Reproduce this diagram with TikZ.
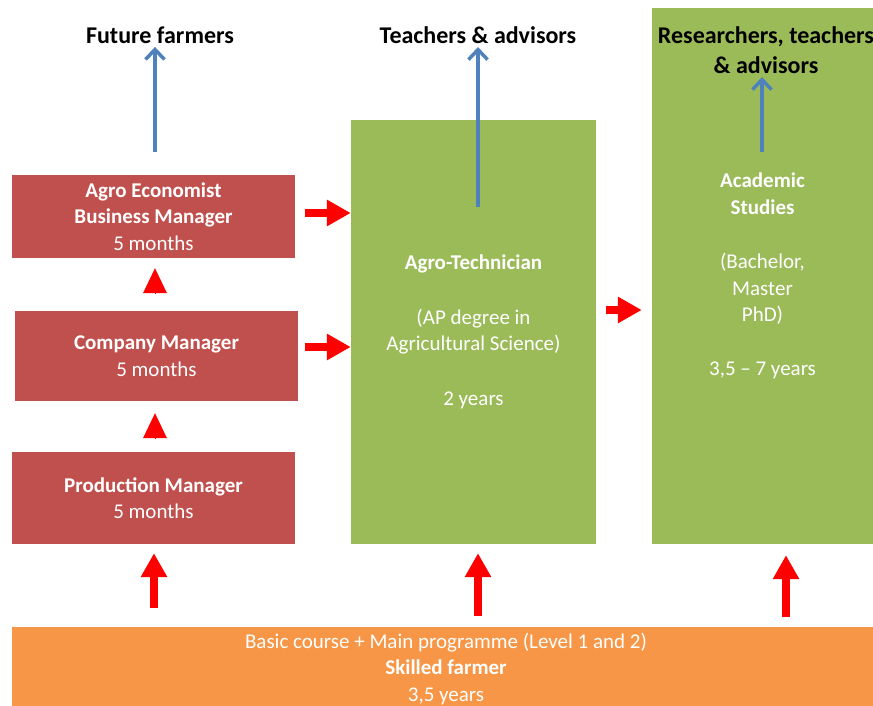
\documentclass[tikz,border=0pt]{standalone}
\usepackage{fontspec}
\setmainfont{Carlito}
\usetikzlibrary{arrows.meta}
\definecolor{boxred}{HTML}{C0504D}
\definecolor{boxgreen}{HTML}{9BBB59}
\definecolor{boxorange}{HTML}{F79646}
\definecolor{arrowblue}{HTML}{4F81BD}
\begin{document}
\begin{tikzpicture}[x=1pt,y=-1pt,
    box/.style={fill=#1,text=white,align=center,inner sep=0pt,font=\fontsize{21}{26.5}\selectfont},
    title/.style={align=center,font=\fontsize{24}{30}\selectfont\bfseries},
    up/.style={arrowblue,line width=3.5pt,-{Straight Barb[length=10pt,width=19pt]}},
    block/.style={red,line width=8pt,-{Triangle[length=24pt,width=25pt]}},
    tri/.style={red,line width=0pt,-{Triangle[length=25pt,width=24pt]}}]
  \useasboundingbox (0,0) rectangle (873,706);
  \draw
    (153.5,216.5) node[box=boxred,minimum width=283pt,minimum height=83pt] (econ)
      {\textbf{Agro Economist}\\\textbf{Business Manager}\\5 months}
    (156.5,356) node[box=boxred,minimum width=283pt,minimum height=90pt] (comp)
      {\textbf{Company Manager}\\5 months}
    (153.5,498) node[box=boxred,minimum width=283pt,minimum height=92pt] (prod)
      {\textbf{Production Manager}\\5 months}
    (473.5,332) node[box=boxgreen,minimum width=245pt,minimum height=424pt] (tech)
      {\textbf{Agro-Technician}\\[28pt](AP degree in\\Agricultural Science)\\[28pt]2 years}
    (762.5,276) node[box=boxgreen,minimum width=221pt,minimum height=536pt] (acad)
      {\textbf{Academic}\\\textbf{Studies}\\[28pt](Bachelor,\\Master\\PhD)\\[27pt]3,5 -- 7 years}
    (446,669) node[box=boxorange,minimum width=868pt,minimum height=84pt] (base)
      {Basic course + Main programme (Level 1 and 2)\\\textbf{Skilled farmer}\\3,5 years}
    (160,35) node[title] (ff) {Future farmers}
    (478,35) node[title] (ta) {Teachers \& advisors}
    (766,50) node[title] (rta) {Researchers, teachers\\\& advisors};
  \coordinate (econtop) at (155,152);
  \coordinate (techtop) at (478,207);
  \coordinate (acadtop) at (762,152);
  \coordinate (econout) at (305,213);
  \coordinate (compout) at (305,347);
  \coordinate (techout) at (606,310);
  \coordinate (compup) at (155,293);
  \coordinate (produp) at (155,436);
  \coordinate (base1) at (154,608);
  \coordinate (base2) at (478,616);
  \coordinate (base3) at (786,617);
  \begin{scope}[up]
    \draw (econtop) -- (econtop |- ff.south);
    \draw (techtop) -- (techtop |- ta.south);
    \draw (acadtop) -- (acadtop |- rta.south);
  \end{scope}
  \begin{scope}[block]
    \draw (econout) -- (econout -| tech.west);
    \draw (compout) -- (compout -| tech.west);
    \draw[shorten >=10pt] (techout) -- (techout -| acad.west);
    \draw[shorten >=9pt] (base1) -- (base1 |- prod.south);
    \draw[shorten >=9pt] (base2) -- (base2 |- tech.south);
    \draw[shorten >=11pt] (base3) -- (base3 |- acad.south);
  \end{scope}
  \draw[tri,shorten >=10pt] (compup) -- (compup |- econ.south);
  \draw[tri,shorten >=12pt] (produp) -- (produp |- comp.south);
\end{tikzpicture}
\end{document}
